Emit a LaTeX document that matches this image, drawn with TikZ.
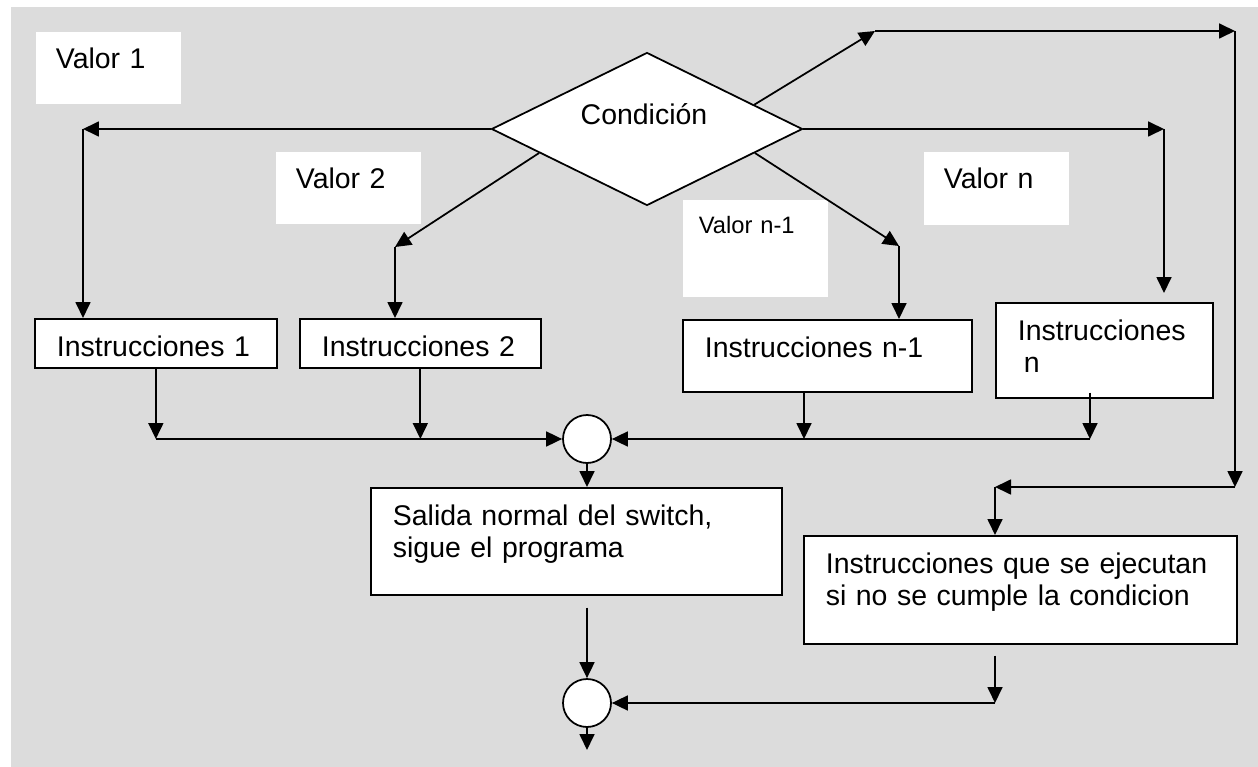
\documentclass[tikz,border=0pt]{standalone}
\usepackage{fontspec}
\setmainfont{Liberation Sans}
\usepackage{xcolor}
\usepackage{tikz}
\usetikzlibrary{calc,arrows.meta,positioning,shapes.geometric}
\definecolor{bgc}{HTML}{DCDCDC}
\tikzset{
  ar/.style={-{Triangle[length=3.2mm,width=3mm]},line width=1pt},
  box/.style={draw,line width=1pt,fill=white,anchor=north west,align=left,inner xsep=4.4mm,inner ysep=0pt,text height=7.6mm,font=\fontsize{16.2}{18.2}\selectfont},
  lbl/.style={box,draw=none,inner xsep=4mm,text height=7.4mm},
  jn/.style={circle,draw,line width=1pt,fill=white,minimum size=9.6mm,inner sep=0pt},
  dec/.style={diamond,draw,line width=1pt,fill=white,minimum width=62.2mm,minimum height=30.6mm,inner sep=0pt}
}

\begin{document}
\begin{tikzpicture}[x=0.02cm,y=-0.02cm]
\useasboundingbox (0,0) rectangle (1258,767);
\fill[bgc] (11,7) rectangle (1258,767);
% value labels
\node[lbl,text width=21mm,text depth=7mm] (v1) at (35,31) {Valor 1};
\node[lbl,text width=21mm,text depth=7mm] (v2) at (275,151) {Valor 2};
\node[lbl,text width=21mm,text depth=7.2mm] (vn) at (923,151) {Valor n};
\node[lbl,inner xsep=3.2mm,text width=22.6mm,text height=6.8mm,text depth=12.6mm,font=\fontsize{13.5}{16}\selectfont] (vn1) at (682,199) {Valor n-1};
% decision
\node[dec] (cond) at (647,129) {};
\node[font=\fontsize{16.2}{18.2}\selectfont,anchor=base,inner sep=0pt] (condtxt) at (644,125) {Condición};
% instruction blocks
\node[box,text width=39.6mm,text depth=2.2mm] (i1) at (34,318) {Instrucciones 1};
\node[box,text width=39.4mm,text depth=2.2mm] (i2) at (299,318) {Instrucciones 2};
\node[box,text width=49mm,text depth=6.8mm] (in1) at (682,319) {Instrucciones n-1};
\node[box,text width=34.6mm,text depth=11.4mm] (inn) at (995,302) {Instrucciones\\\hspace*{1.2mm}n};
\node[box,text width=73.4mm,text depth=13.8mm] (sal) at (370,487) {Salida normal del switch,\\sigue el programa};
\node[box,text width=77.8mm,text depth=14mm] (ns) at (803,535) {Instrucciones que se ejecutan\\si no se cumple la condicion};
% junctions
\node[jn] (m1) at (587,439) {};
\node[jn] (m2) at (587,703) {};
% bends
\coordinate (b1) at (83,129);
\coordinate (b2) at (395,247);
\coordinate (b3) at (899,246);
\coordinate (b4) at (1164,129);
\coordinate (b5) at (875,31);
\coordinate (b6) at (1235,31);
\coordinate (b7) at (1235,487);
\coordinate (b8) at (995,487);
\coordinate (j3) at (804,439);
\coordinate (j4) at (1090,439);
\coordinate (fin) at (587,750);
% branches
\draw[ar] (cond.west) -- (b1);
\draw[ar] (b1) -- (b1 |- i1.north);
\draw[ar] ($(cond.south)!0.69!(cond.west)$) -- (b2);
\draw[ar] (b2) -- (b2 |- i2.north);
\draw[ar] ($(cond.east)!0.31!(cond.south)$) -- (b3);
\draw[ar] (b3) -- (b3 |- in1.north);
\draw[ar] (cond.east) -- (b4);
\draw[ar,shorten >=1.8mm] (b4) -- (b4 |- inn.north);
\draw[ar] ($(cond.north)!0.686!(cond.east)$) -- (b5);
\draw[ar] (b5) -- (b6);
\draw[ar] (b6) -- (b7);
\draw[ar] (b7) -- (b8);
\draw[ar] (b8) -- (b8 |- ns.north);
% first junction
\draw[ar] (i1.south) -- (i1.south |- m1);
\draw[ar] (i2.south) -- (i2.south |- m1);
\draw[ar] (i1.south |- m1) -- (m1.west);
\draw[ar] (j3 |- in1.south) -- (j3);
\draw[ar] (j4 |- in1.south) -- (j4);
\draw[ar] (j4) -- (m1.east);
\draw[ar] (m1.south) -- (m1 |- sal.north);
% second junction
\draw[ar,shorten <=2.4mm] (m1 |- sal.south) -- (m2.north);
\draw[ar,shorten <=2.2mm] (b8 |- ns.south) -- (b8 |- m2);
\draw[ar] (b8 |- m2) -- (m2.east);
\draw[ar] (m2.south) -- (fin);
\end{tikzpicture}
\end{document}
